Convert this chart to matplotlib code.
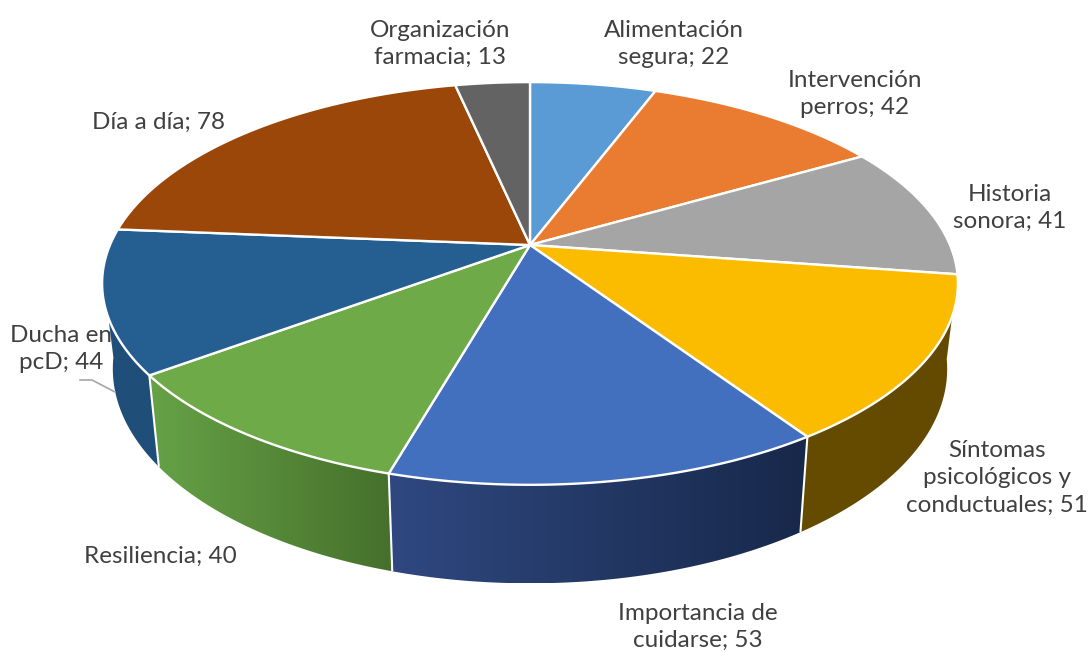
import numpy as np
import matplotlib
matplotlib.use("Agg")
import matplotlib.pyplot as plt
from matplotlib.colors import to_rgb
from matplotlib.patches import Polygon

names = [
    "Alimentación\nsegura",
    "Intervención\nperros",
    "Historia\nsonora",
    "Síntomas\npsicológicos y\nconductuales",
    "Importancia de\ncuidarse",
    "Resiliencia",
    "Ducha en\npcD",
    "Día a día",
    "Organización\nfarmacia",
]
values = [22, 42, 41, 51, 53, 40, 44, 78, 13]
top_colors = ["#5B9BD5", "#EA7C31", "#A5A5A5", "#FBBC00", "#4270BF",
              "#6EAA47", "#255E91", "#9A4709", "#636363"]
# wall colours, left and right end of the gradient (back slices have no wall)
wall_colors = [None, None, None,
               ("#664C00", "#644A00"),
               ("#2F4880", "#17284A"),
               ("#66A246", "#46702C"),
               ("#1F4E79", "#1F4E79"),
               None, None]
label_x = [674, 855, 1010, 997, 698, 160, 61, 159, 440]
label_y = [44, 94, 208, 478, 627, 556, 349, 122, 44]

# perspective of the pie, in pixels
cx, cy = 530, 245
ax_x, ax_y, k = 420, 194, 0.191


def top_rim(deg):
    t = np.radians(deg)
    w = 1 + k * np.cos(t)
    return cx + ax_x * np.sin(t) / w, cy - ax_y * np.cos(t) / w


def bottom_rim(deg):
    x, y = top_rim(deg)
    return cx + 0.975 * (x - cx), 1.065 * y + 67


fig = plt.figure(figsize=(10.91, 6.52), dpi=100)
ax = fig.add_axes([0, 0, 1, 1])

edges = np.concatenate([[0], np.cumsum(values)]) * 360 / sum(values)

# side walls, a gradient image clipped to each wall
for start, end, wall in zip(edges[:-1], edges[1:], wall_colors):
    if wall is None:
        continue
    angles = np.linspace(start, min(end, 262), 100)
    xt, yt = top_rim(angles)
    xb, yb = bottom_rim(angles)
    xs = np.r_[xt, xb[::-1]]
    ys = np.r_[yt, yb[::-1]]
    c0, c1 = np.array(to_rgb(wall[0])), np.array(to_rgb(wall[1]))
    grad = np.linspace(0, 1, 256)[None, :, None]
    im = ax.imshow(c0 + (c1 - c0) * grad, aspect="auto", interpolation="bilinear",
                   extent=[xs.min(), xs.max(), ys.max(), ys.min()])
    poly = Polygon(np.c_[xs, ys], transform=ax.transData, facecolor="none", edgecolor="none")
    ax.add_patch(poly)
    im.set_clip_path(poly)

# white lines between the walls
for deg in edges[4:7]:
    x0, y0 = top_rim(deg)
    x1, y1 = bottom_rim(deg)
    ax.plot([x0, x1], [y0, y1], color="white", lw=1.5, solid_capstyle="butt")

# top face
for start, end, col in zip(edges[:-1], edges[1:], top_colors):
    angles = np.linspace(start, end, 120)
    x, y = top_rim(angles)
    ax.fill(np.r_[cx, x], np.r_[cy, y], facecolor=col, edgecolor="white",
            lw=1.7, joinstyle="round")

# leader line of the Ducha label
ax.plot([80, 92, 115], [380, 380, 392], color="#A6A6A6", lw=1.2)

for name, val, x, y in zip(names, values, label_x, label_y):
    ax.text(x, y, f"{name}; {val}", ha="center", va="center", multialignment="center",
            fontsize=17.5, family="Lato", color="#404040", linespacing=1.39)

ax.set_xlim(0, 1091)
ax.set_ylim(652, 0)
ax.axis("off")

fig.savefig("out.png", dpi=100)
